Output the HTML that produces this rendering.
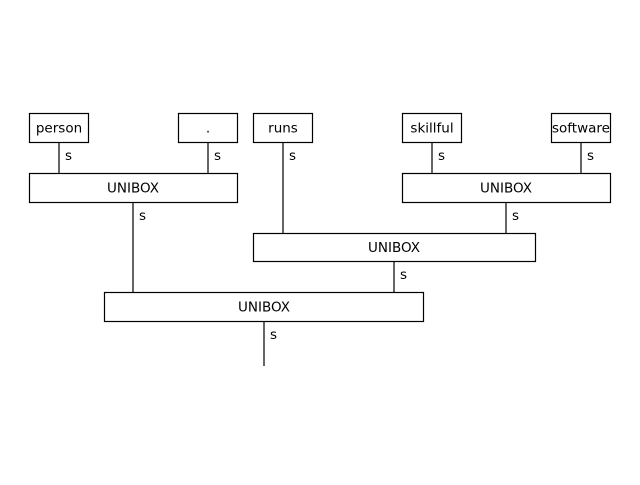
<!DOCTYPE html>
<html><head><meta charset="utf-8"><style>html,body{margin:0;padding:0;background:#fff}</style></head>
<body>
<svg width="640" height="480" xmlns="http://www.w3.org/2000/svg" font-family="DejaVu Sans, Liberation Sans, sans-serif" font-size="13.5">
<g stroke="#000" stroke-width="1.2" fill="none">
<line x1="59" y1="143" x2="59" y2="173"/>
<line x1="208" y1="143" x2="208" y2="173"/>
<line x1="283" y1="143" x2="283" y2="233"/>
<line x1="432" y1="143" x2="432" y2="173"/>
<line x1="581" y1="143" x2="581" y2="173"/>
<line x1="133" y1="203" x2="133" y2="292"/>
<line x1="506" y1="203" x2="506" y2="233"/>
<line x1="394" y1="262" x2="394" y2="292"/>
<line x1="264" y1="322" x2="264" y2="366"/>
<rect x="29.5" y="113.5" width="59" height="29" fill="#fff"/>
<rect x="178.5" y="113.5" width="59" height="29" fill="#fff"/>
<rect x="253.5" y="113.5" width="59" height="29" fill="#fff"/>
<rect x="402.5" y="113.5" width="59" height="29" fill="#fff"/>
<rect x="551.5" y="113.5" width="59" height="29" fill="#fff"/>
<rect x="29.5" y="173.5" width="208" height="29" fill="#fff"/>
<rect x="402.5" y="173.5" width="208" height="29" fill="#fff"/>
<rect x="253.5" y="233.5" width="282" height="28" fill="#fff"/>
<rect x="104.5" y="292.5" width="319" height="29" fill="#fff"/>
</g>
<g fill="#000" text-anchor="middle">
<text x="59" y="132.5">person</text>
<text x="208" y="132.5">.</text>
<text x="283" y="132.5">runs</text>
<text x="432" y="132.5">skillful</text>
<text x="581" y="132.5">software</text>
<text x="133" y="192.5">UNIBOX</text>
<text x="506" y="192.5">UNIBOX</text>
<text x="394" y="252">UNIBOX</text>
<text x="264" y="311.5">UNIBOX</text>
</g>
<g fill="#000">
<text x="65" y="160">s</text>
<text x="214" y="160">s</text>
<text x="289" y="160">s</text>
<text x="438" y="160">s</text>
<text x="587" y="160">s</text>
<text x="139" y="220">s</text>
<text x="512" y="220">s</text>
<text x="400" y="279">s</text>
<text x="270" y="339">s</text>
</g>
</svg>
</body></html>
